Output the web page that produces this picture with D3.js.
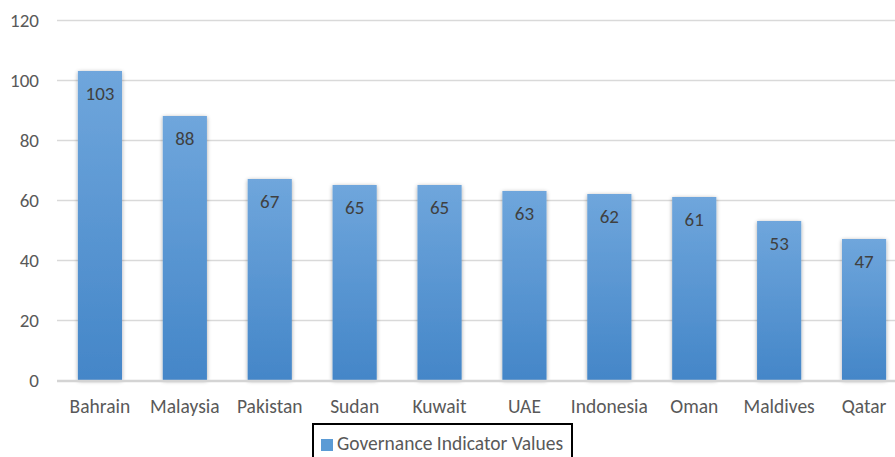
<!DOCTYPE html>
<html><head><meta charset="utf-8">
<script src="https://cdn.jsdelivr.net/npm/d3@7"></script>
<style>body{margin:0;background:#fff;} svg{display:block;font-family:Carlito,Calibri,Lato,sans-serif;}</style>
</head><body>
<svg id="c" width="895" height="457"></svg>
<script>
const categories = ["Bahrain","Malaysia","Pakistan","Sudan","Kuwait","UAE","Indonesia","Oman","Maldives","Qatar"];
const values = [103,88,67,65,65,63,62,61,53,47];
const yTicks = [0,20,40,60,80,100,120];
const seriesName = "Governance Indicator Values";

const svg = d3.select("#c");
const x = d3.scaleBand().domain(categories).range([57.5,906.5]).paddingInner(0.48).paddingOuter(0.24);
const y = d3.scaleLinear().domain([0,120]).range([380,20]);

const defs = svg.append("defs");
const g = defs.append("linearGradient").attr("id","bg").attr("x1",0).attr("y1",0).attr("x2",0).attr("y2",1);
g.append("stop").attr("offset","0%").attr("stop-color","#6fa6dc");
g.append("stop").attr("offset","100%").attr("stop-color","#4486c8");
const f = defs.append("filter").attr("id","sh").attr("x","-30%").attr("y","-10%").attr("width","160%").attr("height","130%");
f.append("feGaussianBlur").attr("in","SourceAlpha").attr("stdDeviation",2).attr("result","b");
f.append("feOffset").attr("in","b").attr("dx",0).attr("dy",1).attr("result","o");
f.append("feComponentTransfer").attr("in","o").attr("result","o2").append("feFuncA").attr("type","linear").attr("slope",0.35);
const m = f.append("feMerge"); m.append("feMergeNode").attr("in","o2"); m.append("feMergeNode").attr("in","SourceGraphic");

// gridlines
const yAxis = d3.axisLeft(y).tickValues(yTicks).tickSize(-(906-57)).tickPadding(18);
const ya = svg.append("g").attr("transform","translate(57,0)").call(yAxis);
ya.select(".domain").remove();
ya.selectAll(".tick line").attr("stroke",d=>d===0?"none":"#d9d9d9").attr("stroke-width",1.5);
ya.selectAll(".tick text").attr("fill","#595959").attr("font-size","19px").style("font-family","Carlito,Calibri,Lato,sans-serif");

// bars
svg.append("g").selectAll("rect").data(values).join("rect")
  .attr("x",(d,i)=>x(categories[i])).attr("width",x.bandwidth())
  .attr("y",d=>y(d)).attr("height",d=>y(0)-y(d))
  .attr("fill","url(#bg)").attr("filter","url(#sh)");

// zero axis
svg.append("line").attr("x1",57).attr("x2",906).attr("y1",y(0)+1).attr("y2",y(0)+1).attr("stroke","#d4d4d4").attr("stroke-width",2.5);

// value labels
svg.append("g").selectAll("text").data(values).join("text")
  .attr("x",(d,i)=>x(categories[i])+x.bandwidth()/2).attr("y",d=>y(d)+29)
  .attr("text-anchor","middle").attr("fill","#404040").attr("font-size","19px").text(d=>d);

// x axis labels
const xAxis = d3.axisBottom(x).tickSize(0).tickPadding(19);
const xa = svg.append("g").attr("transform","translate(0,380)").call(xAxis);
xa.select(".domain").remove();
xa.selectAll(".tick text").attr("fill","#595959").attr("font-size","19.5px").style("font-family","Carlito,Calibri,Lato,sans-serif");

// legend
svg.append("rect").attr("x",313).attr("y",424).attr("width",259).attr("height",40).attr("fill","#fff").attr("stroke","#000").attr("stroke-width",2);
svg.append("rect").attr("x",321).attr("y",439).attr("width",12).attr("height",12).attr("fill","#5b9bd5");
svg.append("text").attr("x",337).attr("y",450).attr("fill","#595959").attr("font-size","19.5px").text(seriesName);
</script>
</body></html>
